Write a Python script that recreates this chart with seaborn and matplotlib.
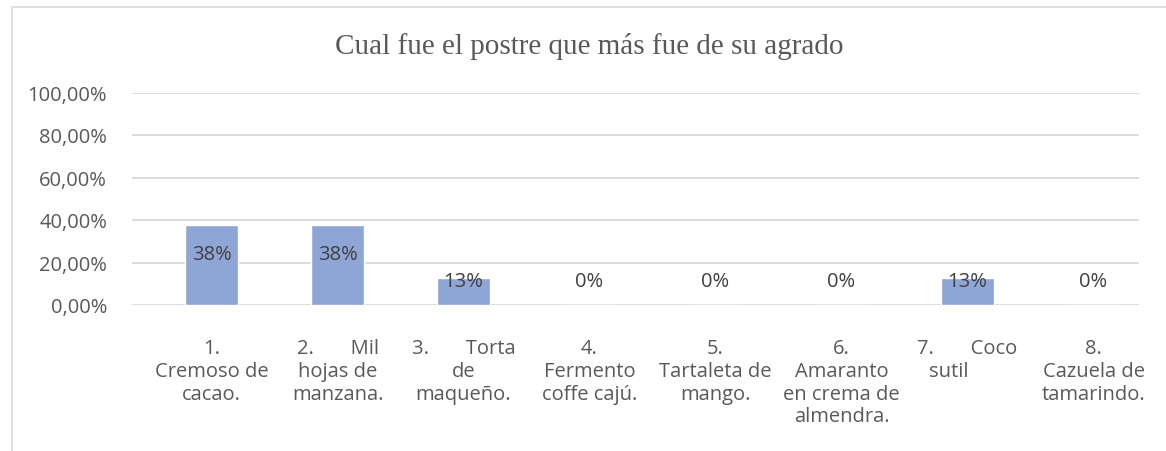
import matplotlib
matplotlib.use('Agg')
import matplotlib.pyplot as plt
import seaborn as sns
import pandas as pd
from matplotlib.patches import Rectangle
from matplotlib.ticker import FuncFormatter

# data
postres = ['1.\nCremoso de\ncacao.',
           '2.       Mil\nhojas de\nmanzana.',
           '3.       Torta\nde\nmaqueño.',
           '4.\nFermento\ncoffe cajú.',
           '5.\nTartaleta de\nmango.',
           '6.\nAmaranto\nen crema de\nalmendra.',
           '7.       Coco\nsutil       ',
           '8.\nCazuela de\ntamarindo.']
porcentaje = [0.375, 0.375, 0.125, 0.0, 0.0, 0.0, 0.125, 0.0]
etiquetas = ['38%', '38%', '13%', '0%', '0%', '0%', '13%', '0%']
y_ticks = [0.0, 0.2, 0.4, 0.6, 0.8, 1.0]

df = pd.DataFrame({'postre': postres, 'pct': porcentaje})

gris = '#595959'
sns.set_style('white')
plt.rcParams['font.family'] = ['Open Sans', 'DejaVu Sans']

fig = plt.figure(figsize=(11.66, 4.52), dpi=100)
ax = fig.add_axes([132/1166, 1-306/452, (1139-132)/1166, (306-93.5)/452])

sns.barplot(data=df, x='postre', y='pct', color='#8FA5D6', saturation=1,
            width=0.42, ax=ax, zorder=3)

for i, (v, t) in enumerate(zip(porcentaje, etiquetas)):
    ax.text(i, max(v - 0.135, 0.113), t, ha='center', va='center',
            fontsize=14.5, color='#404040', zorder=4)

ax.set_ylim(0, 1.0)
ax.set_xlim(-0.631, 7.361)
ax.set_yticks(y_ticks)
ax.yaxis.set_major_formatter(FuncFormatter(lambda v, p: ('%.2f%%' % (v*100)).replace('.', ',')))
ax.grid(axis='y', color='#D9D9D9', linewidth=1.3, zorder=0)
ax.set_xlabel('')
ax.set_ylabel('')
for s in ax.spines.values():
    s.set_visible(False)
ax.tick_params(axis='y', length=0, pad=18, labelsize=14.5, labelcolor=gris)
ax.tick_params(axis='x', length=0, pad=24, labelsize=14.5, labelcolor=gris)
for lab in ax.get_xticklabels():
    lab.set_linespacing(1.18)

fig.text(589/1166, 1-47/452, 'Cual fue el postre que más fue de su agrado',
         ha='center', va='center', fontsize=21, color=gris,
         family='Liberation Serif')

fig.patches.append(Rectangle((12/1166, -0.05), 1.2, 1-8/452+0.05,
                             transform=fig.transFigure, fill=False,
                             edgecolor='#D9D9D9', linewidth=1.2))

fig.savefig('out.png', dpi=100)
